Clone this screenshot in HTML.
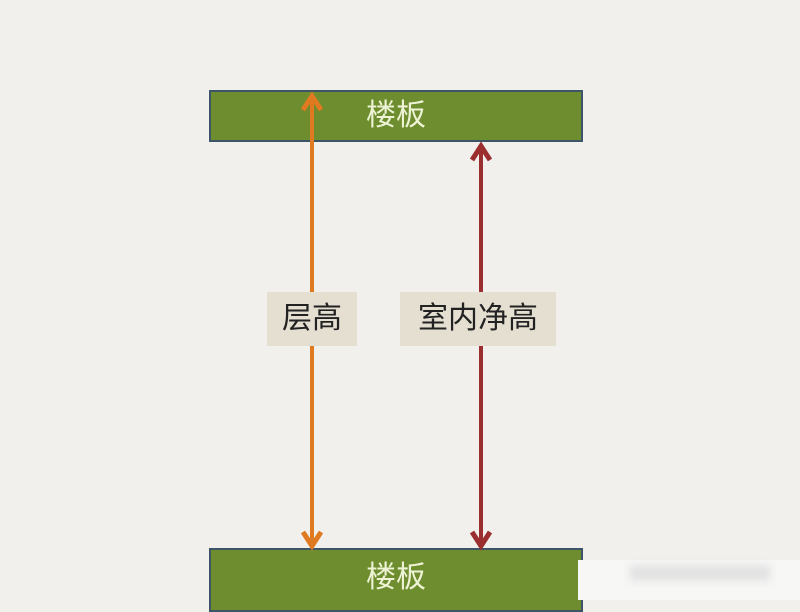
<!DOCTYPE html>
<html><head><meta charset="utf-8"><style>
body{margin:0;width:800px;height:600px;overflow:hidden;background:#f1f0ec;font-family:"Liberation Sans","Noto Sans CJK SC",sans-serif;position:relative}
.slab{position:absolute;left:209px;width:370px;background:#6e8d2e;border:2px solid #3d5566;color:#eef3d6;font-size:30px;text-align:center}
.lbl{position:absolute;background:#e4dfd1;color:#222;font-size:30px;text-align:center;line-height:54px;height:54px}
</style></head><body>
<div class="slab" style="top:90px;height:48px;line-height:48px">楼板</div>
<div class="slab" style="top:548px;height:60px;line-height:56px">楼板</div>
<div style="position:absolute;left:578px;top:560px;width:222px;height:40px;background:#f7f7f6"></div>
<div style="position:absolute;left:630px;top:565px;width:140px;height:16px;background:#e2e2e2;filter:blur(4px)"></div>
<svg width="800" height="600" style="position:absolute;left:0;top:0">
<line x1="312" y1="100" x2="312" y2="542" stroke="#e07a20" stroke-width="4"/>
<polyline points="303,110 312,96 321,110" fill="none" stroke="#e07a20" stroke-width="5"/>
<polyline points="303,532 312,546 321,532" fill="none" stroke="#e07a20" stroke-width="5"/>
<line x1="481" y1="150" x2="481" y2="542" stroke="#9b2f2f" stroke-width="4"/>
<polyline points="472,160 481,146 490,160" fill="none" stroke="#9b2f2f" stroke-width="5"/>
<polyline points="472,532 481,546 490,532" fill="none" stroke="#9b2f2f" stroke-width="5"/>
</svg>
<div class="lbl" style="left:267px;top:292px;width:90px">层高</div>
<div class="lbl" style="left:400px;top:292px;width:156px">室内净高</div>
</body></html>
